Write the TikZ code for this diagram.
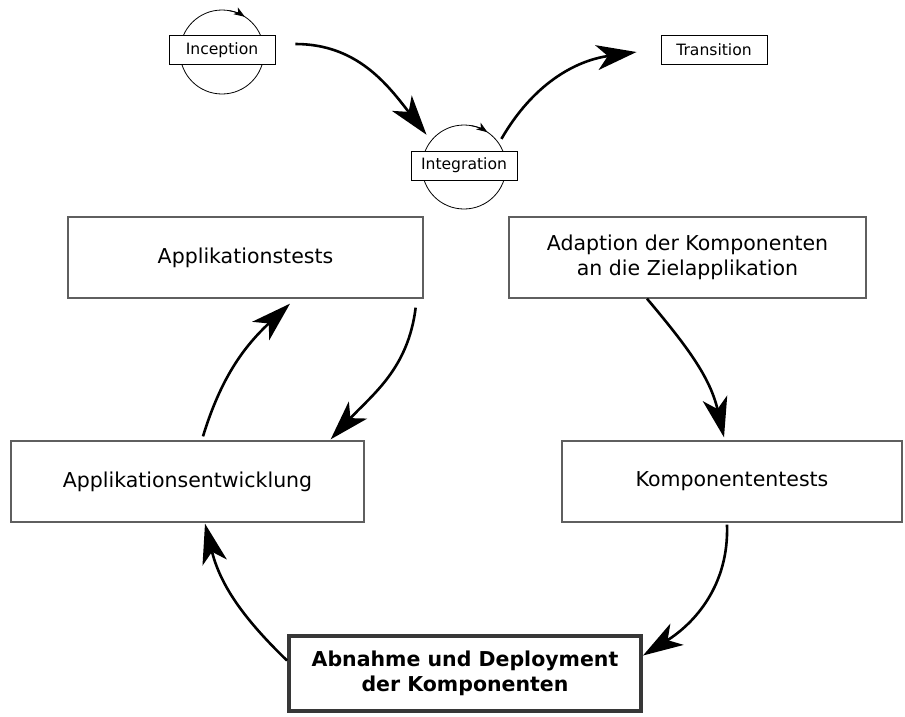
\documentclass[tikz,border=0pt]{standalone}
\usepackage{fontspec}
\setmainfont{DejaVu Sans}
\usetikzlibrary{arrows.meta}
\definecolor{boxgray}{RGB}{95,95,95}
\definecolor{darkframe}{RGB}{55,55,55}
\begin{document}
\begin{tikzpicture}[x=1pt,y=1pt,
  bigbox/.style={draw=boxgray,line width=1.3pt,fill=white,inner sep=0pt,
    minimum height=81pt,align=center,font=\fontsize{20.5}{24.8}\selectfont},
  mainbox/.style={draw=darkframe,line width=4pt,fill=white,inner sep=0pt,
    minimum width=352pt,minimum height=75pt,align=center,
    font=\fontsize{20.5}{24.8}\selectfont\bfseries},
  phasebox/.style={draw=black,line width=0.9pt,fill=white,inner sep=0pt,
    minimum width=106pt,minimum height=29pt,font=\fontsize{15.6}{18}\selectfont},
  loop/.style={circle,draw=black,line width=0.8pt,minimum size=84pt,inner sep=0pt},
  loopmark/.style={line width=0.8pt,-{Stealth[length=11pt,width=8pt,inset=3pt]}},
  flow/.style={line width=2.6pt,-{Stealth[length=40pt,width=25pt,inset=11pt]}}]

\useasboundingbox (0,0) rectangle (905,-716);

% iteration loops behind the phase labels
\node[loop] (inccirc) at (222,-52) {};
\node[loop] (intcirc) at (464,-167) {};
\draw[loopmark] ([shift={(80:42)}]inccirc.center) arc[start angle=80,end angle=57,radius=42];
\draw[loopmark] ([shift={(80:42)}]intcirc.center) arc[start angle=80,end angle=56,radius=42];

% phases
\node[phasebox] (inc)   at (222,-50)   {Inception};
\node[phasebox] (integ) at (464,-165.5) {Integration};
\node[phasebox] (trans) at (714,-49.5) {Transition};

% activities
\node[bigbox,minimum width=355pt] (apptests) at (245.5,-257.5) {Applikationstests};
\node[bigbox,minimum width=357pt] (adapt)    at (687.5,-257.5) {Adaption der Komponenten\\an die Zielapplikation};
\node[bigbox,minimum width=353pt] (appdev)   at (187.5,-481.5) {Applikationsentwicklung};
\node[bigbox,minimum width=340pt] (komp)     at (732,-481.5)   {Komponententests};
\node[mainbox] (abn) at (465,-673.5) {Abnahme und Deployment\\der Komponenten};

% phase transitions
\draw[flow] ([xshift=20pt,yshift=6pt]inc.east) to[out=0,in=128]
  ([xshift=-5pt,yshift=5pt]intcirc.140);
\draw[flow] ([xshift=4pt,yshift=2pt]intcirc.38) to[out=60,in=188]
  ([xshift=-24pt,yshift=-2.5pt]trans.west);

% development cycle
\draw[flow] ([xshift=-8pt,yshift=-9pt]apptests.south east) to[out=-97,in=47]
  ([xshift=-34pt,yshift=1pt]appdev.north east);
\draw[flow] ([xshift=15.5pt,yshift=4pt]appdev.north) to[out=73,in=223]
  ([xshift=44.5pt,yshift=-5pt]apptests.south);
\draw[flow] ([xshift=-40.5pt]adapt.south) to[out=-50,in=103]
  ([xshift=-8pt,yshift=3pt]komp.north);
\draw[flow] ([xshift=-5pt,yshift=-2pt]komp.south) to[out=-88,in=32]
  ([yshift=18pt]abn.east);
\draw[flow] ([yshift=13pt]abn.west) to[out=136,in=-76]
  ([xshift=17.5pt,yshift=-1pt]appdev.south);
\end{tikzpicture}
\end{document}
